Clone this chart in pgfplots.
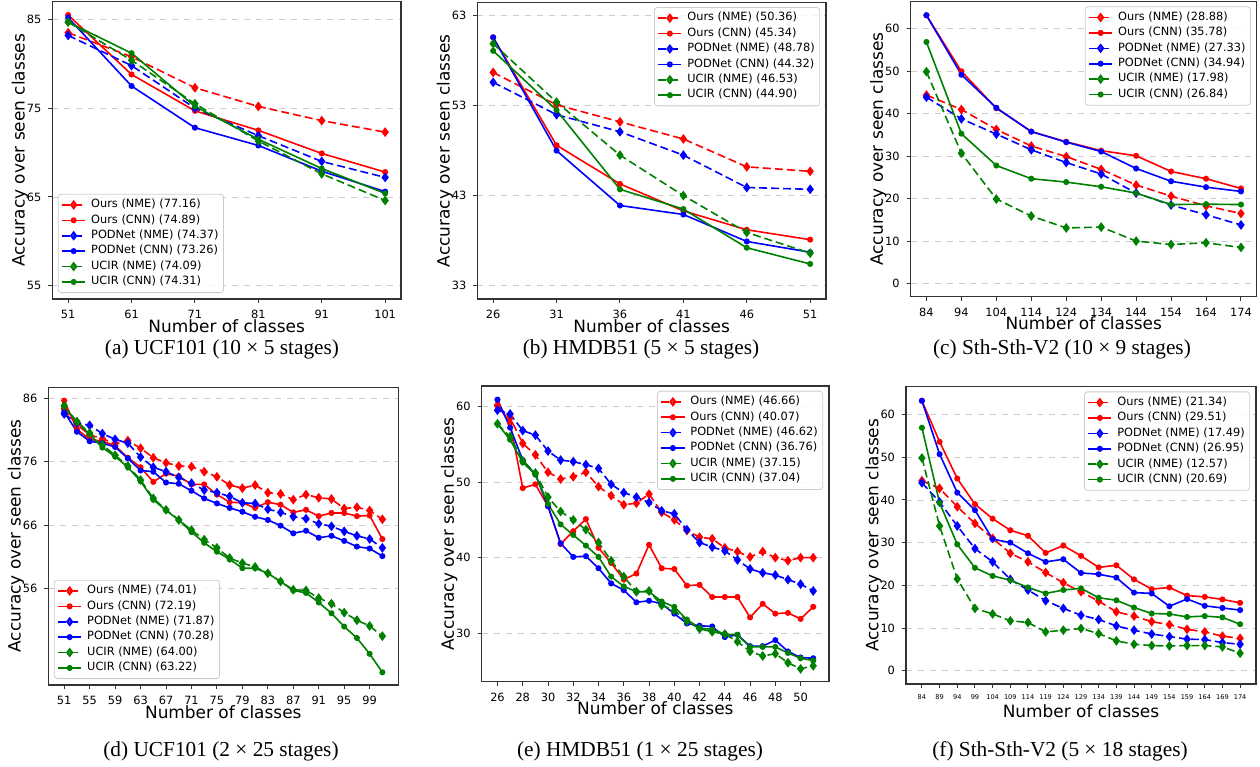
\documentclass[border=0pt]{standalone}
\usepackage{fontspec}
\setmainfont{DejaVu Sans}
\newfontfamily\capfont{Liberation Serif}
\usepackage{pgfplots}
\pgfplotsset{compat=1.18}

\definecolor{mgreen}{rgb}{0,0.5,0}

\pgfplotsset{
  panel/.style={
    scale only axis, anchor=south west,
    axis line style={black!80, line width=0.6bp},
    ymajorgrids, major grid style={dashed, black!20, line width=0.4bp},
    tick align=outside, tick pos=left, major tick length=2bp,
    every tick/.style={black!80, line width=0.5bp},
    ticklabel style={font=\fontsize{5.7}{6}\selectfont},
    /pgf/number format/assume math mode=true,
    xlabel={Number of classes}, ylabel={Accuracy over seen classes},
    every axis x label/.style={at={(axis description cs:0.5,0)}, yshift=-13.4bp,
      anchor=center, font=\fontsize{8.5}{9}\selectfont, inner sep=0pt},
    every axis y label/.style={at={(axis description cs:0,0.5)}, xshift=-16.2bp,
      rotate=90, anchor=center, font=\fontsize{8.5}{9}\selectfont, inner sep=0pt},
    legend cell align=left,
    legend style={font=\fontsize{5.7}{6.6}\selectfont, draw=black!20,
      rounded corners=1.5bp, fill=white, fill opacity=0.8, text opacity=1,
      inner xsep=1.5bp, inner ysep=1.5bp, row sep=0bp, column sep=1.6bp,
      nodes={inner sep=0.95bp}},
    legend image code/.code={\draw[mark repeat=2,mark phase=2]
      plot coordinates {(0bp,0bp) (5.8bp,0bp) (11.6bp,0bp)};},
  },
  nme/.style={line width=0.8bp, dash pattern=on 4bp off 2bp, mark=diamond*, mark size=1.8bp, mark options={solid}},
  cnn/.style={line width=0.8bp, mark=*, mark size=1.1bp},
  sw/.style={legend style={at={(0.016,0.02)}, anchor=south west}},
  ne/.style={legend style={at={(0.983,0.984)}, anchor=north east}},
}

\begin{document}
\begin{tikzpicture}
\useasboundingbox (0,0) rectangle (630bp,383.5bp);

% (a) UCF101 10x5
\begin{axis}[panel, sw, at={(26.15bp,234bp)}, width=174.35bp, height=148.65bp,
  xmin=48.5, xmax=103.5, ymin=53.5, ymax=87,
  xtick={51,61,71,81,91,101}, ytick={55,65,75,85}]
\addplot[red, nme] coordinates {(51,83.5)(61,80.8)(71,77.3)(81,75.2)(91,73.6)(101,72.3)};
\addplot[red, cnn] coordinates {(51,85.5)(61,78.8)(71,74.7)(81,72.5)(91,69.9)(101,67.8)};
\addplot[blue, nme] coordinates {(51,83.2)(61,79.8)(71,75.0)(81,71.9)(91,69.0)(101,67.2)};
\addplot[blue, cnn] coordinates {(51,85.2)(61,77.5)(71,72.8)(81,70.8)(91,67.9)(101,65.6)};
\addplot[mgreen, nme] coordinates {(51,84.7)(61,80.4)(71,75.5)(81,71.3)(91,67.6)(101,64.6)};
\addplot[mgreen, cnn] coordinates {(51,84.7)(61,81.2)(71,75.2)(81,71.5)(91,68.2)(101,65.4)};
\legend{Ours (NME) (77.16), Ours (CNN) (74.89), PODNet (NME) (74.37), PODNet (CNN) (73.26), UCIR (NME) (74.09), UCIR (CNN) (74.31)}
\end{axis}

% (b) HMDB51 5x5
\begin{axis}[panel, ne, at={(238.65bp,234bp)}, width=174.35bp, height=148.35bp,
  xmin=24.75, xmax=52.25, ymin=31.5, ymax=64.5,
  xtick={26,31,36,41,46,51}, ytick={33,43,53,63}]
\addplot[red, nme] coordinates {(26,56.7)(31,53.1)(36,51.2)(41,49.3)(46,46.2)(51,45.7)};
\addplot[red, cnn] coordinates {(26,60.6)(31,48.6)(36,44.3)(41,41.3)(46,39.2)(51,38.1)};
\addplot[blue, nme] coordinates {(26,55.6)(31,52.0)(36,50.1)(41,47.5)(46,43.9)(51,43.7)};
\addplot[blue, cnn] coordinates {(26,60.6)(31,48.0)(36,41.9)(41,40.9)(46,37.9)(51,36.7)};
\addplot[mgreen, nme] coordinates {(26,59.9)(31,53.4)(36,47.5)(41,43.0)(46,38.9)(51,36.6)};
\addplot[mgreen, cnn] coordinates {(26,59.1)(31,52.5)(36,43.7)(41,41.5)(46,37.2)(51,35.4)};
\legend{Ours (NME) (50.36), Ours (CNN) (45.34), PODNet (NME) (48.78), PODNet (CNN) (44.32), UCIR (NME) (46.53), UCIR (CNN) (44.90)}
\end{axis}

% (c) Sth-Sth-V2 10x9
\begin{axis}[panel, ne, at={(455.35bp,235.15bp)}, width=173bp, height=147.5bp,
  xmin=79.5, xmax=178.5, ymin=-3.1, ymax=66.4,
  xtick={84,94,...,174}, ytick={0,10,...,60}]
\addplot[red, nme] coordinates {(84,44.4)(94,41.0)(104,36.3)(114,32.4)(124,29.9)(134,26.9)(144,23.2)(154,20.6)(164,18.3)(174,16.5)};
\addplot[red, cnn] coordinates {(84,63.2)(94,50.0)(104,41.3)(114,35.8)(124,33.4)(134,31.3)(144,30.1)(154,26.4)(164,24.7)(174,22.4)};
\addplot[blue, nme] coordinates {(84,43.9)(94,38.8)(104,35.2)(114,31.5)(124,28.5)(134,25.8)(144,21.3)(154,18.5)(164,16.2)(174,13.8)};
\addplot[blue, cnn] coordinates {(84,63.2)(94,49.2)(104,41.4)(114,35.8)(124,33.3)(134,31.1)(144,27.1)(154,24.1)(164,22.7)(174,21.7)};
\addplot[mgreen, nme] coordinates {(84,49.9)(94,30.7)(104,19.9)(114,15.9)(124,13.1)(134,13.3)(144,10.0)(154,9.2)(164,9.6)(174,8.5)};
\addplot[mgreen, cnn] coordinates {(84,56.9)(94,35.3)(104,27.8)(114,24.7)(124,23.9)(134,22.8)(144,21.3)(154,18.6)(164,18.7)(174,18.6)};
\legend{Ours (NME) (28.88), Ours (CNN) (35.78), PODNet (NME) (27.33), PODNet (CNN) (34.94), UCIR (NME) (17.98), UCIR (CNN) (26.84)}
\end{axis}

% (d) UCF101 2x25
\begin{axis}[panel, sw, at={(24.15bp,41bp)}, width=175bp, height=148.85bp,
  xmin=48.5, xmax=103.5, ymin=40.8, ymax=87.7,
  xtick={51,55,...,99}, ytick={56,66,76,86}]
\addplot[red, nme] coordinates {(51,84.3)(53,81.8)(55,80.2)(57,79.6)(59,78.8)(61,79.3)(63,78.1)(65,76.6)(67,75.8)(69,75.3)(71,75.2)(73,74.4)(75,73.6)(77,72.3)(79,71.8)(81,72.3)(83,71.1)(85,70.9)(87,70.0)(89,70.8)(91,70.3)(93,70.1)(95,68.6)(97,68.8)(99,68.3)(101,66.9)};
\addplot[red, cnn] coordinates {(51,85.6)(53,81.1)(55,79.5)(57,79.2)(59,78.5)(61,76.6)(63,75.1)(65,72.8)(67,74.1)(69,73.7)(71,72.4)(73,72.4)(75,70.8)(77,69.6)(79,69.5)(81,68.7)(83,69.6)(85,69.2)(87,68.0)(89,68.4)(91,67.4)(93,67.9)(95,67.9)(97,67.4)(99,67.5)(101,63.8)};
\addplot[blue, nme] coordinates {(51,83.5)(53,82.1)(55,81.7)(57,80.4)(59,79.5)(61,78.9)(63,76.7)(65,75.1)(67,74.4)(69,73.5)(71,72.6)(73,71.5)(75,71.1)(77,70.5)(79,69.5)(81,69.4)(83,68.5)(85,68.0)(87,67.3)(89,67.0)(91,66.2)(93,65.8)(95,65.0)(97,64.3)(99,63.8)(101,62.4)};
\addplot[blue, cnn] coordinates {(51,83.8)(53,80.7)(55,79.2)(57,78.9)(59,78.3)(61,76.5)(63,74.6)(65,74.4)(67,72.7)(69,72.5)(71,71.4)(73,70.2)(75,69.4)(77,68.7)(79,68.1)(81,67.3)(83,66.8)(85,65.9)(87,64.7)(89,65.1)(91,64.0)(93,64.3)(95,63.5)(97,62.6)(99,62.3)(101,61.1)};
\addplot[mgreen, nme] coordinates {(51,84.8)(53,82.3)(55,80.5)(57,78.6)(59,77.0)(61,75.3)(63,73.1)(65,70.2)(67,68.4)(69,66.8)(71,65.2)(73,63.7)(75,62.4)(77,60.8)(79,60.0)(81,59.4)(83,58.4)(85,57.1)(87,55.8)(89,55.7)(91,54.5)(93,53.6)(95,52.2)(97,51.0)(99,50.1)(101,48.5)};
\addplot[mgreen, cnn] coordinates {(51,84.7)(53,82.2)(55,80.3)(57,78.2)(59,76.8)(61,75.1)(63,72.9)(65,70.0)(67,68.3)(69,66.8)(71,64.9)(73,63.2)(75,61.8)(77,60.6)(79,59.2)(81,59.2)(83,58.4)(85,57.1)(87,55.7)(89,55.3)(91,53.8)(93,52.1)(95,50.0)(97,48.2)(99,45.7)(101,42.8)};
\legend{Ours (NME) (74.01), Ours (CNN) (72.19), PODNet (NME) (71.87), PODNet (CNN) (70.28), UCIR (NME) (64.00), UCIR (CNN) (63.22)}
\end{axis}

% (e) HMDB51 1x25
\begin{axis}[panel, ne, at={(240.85bp,42.65bp)}, width=173.65bp, height=147.85bp,
  xmin=24.75, xmax=52.25, ymin=23.6, ymax=62.7,
  xtick={26,28,...,50}, ytick={30,40,50,60}]
\addplot[red, nme] coordinates {(26,60.1)(27,58.5)(28,55.1)(29,53.6)(30,51.3)(31,50.4)(32,50.7)(33,51.3)(34,49.4)(35,48.2)(36,47.0)(37,47.2)(38,48.4)(39,46.0)(40,45.0)(41,43.6)(42,42.7)(43,42.5)(44,41.3)(45,40.8)(46,40.1)(47,40.8)(48,40.0)(49,39.6)(50,40.0)(51,40.0)};
\addplot[red, cnn] coordinates {(26,60.2)(27,57.8)(28,49.2)(29,49.7)(30,46.8)(31,41.8)(32,43.5)(33,45.1)(34,41.3)(35,39.3)(36,37.1)(37,37.9)(38,41.7)(39,38.6)(40,38.5)(41,36.3)(42,36.4)(43,34.8)(44,34.8)(45,34.8)(46,32.1)(47,33.9)(48,32.6)(49,32.7)(50,31.9)(51,33.5)};
\addplot[blue, nme] coordinates {(26,59.5)(27,59.0)(28,56.8)(29,56.2)(30,54.1)(31,52.9)(32,52.7)(33,52.3)(34,51.8)(35,49.7)(36,48.6)(37,48.0)(38,47.3)(39,46.2)(40,45.8)(41,43.7)(42,42.0)(43,41.4)(44,40.9)(45,39.7)(46,38.5)(47,38.0)(48,37.7)(49,37.1)(50,36.5)(51,35.6)};
\addplot[blue, cnn] coordinates {(26,60.9)(27,57.2)(28,52.9)(29,51.0)(30,46.8)(31,41.9)(32,40.1)(33,40.2)(34,38.6)(35,36.6)(36,35.7)(37,34.1)(38,34.3)(39,33.9)(40,32.6)(41,31.3)(42,31.0)(43,30.9)(44,29.5)(45,29.8)(46,28.3)(47,28.3)(48,29.1)(49,27.6)(50,26.8)(51,26.7)};
\addplot[mgreen, nme] coordinates {(26,57.7)(27,56.0)(28,52.8)(29,51.2)(30,48.0)(31,46.1)(32,45.0)(33,43.7)(34,42.0)(35,39.6)(36,37.5)(37,35.5)(38,35.6)(39,33.7)(40,33.0)(41,31.6)(42,30.6)(43,30.2)(44,29.9)(45,28.9)(46,27.6)(47,27.0)(48,27.3)(49,26.1)(50,25.3)(51,25.7)};
\addplot[mgreen, cnn] coordinates {(26,57.7)(27,55.6)(28,52.6)(29,51.0)(30,47.1)(31,44.4)(32,43.0)(33,41.6)(34,40.1)(35,37.5)(36,36.2)(37,35.5)(38,35.5)(39,34.2)(40,33.5)(41,31.8)(42,30.7)(43,30.5)(44,29.9)(45,29.8)(46,28.2)(47,28.2)(48,28.2)(49,27.4)(50,26.7)(51,26.4)};
\legend{Ours (NME) (46.66), Ours (CNN) (40.07), PODNet (NME) (46.62), PODNet (CNN) (36.76), UCIR (NME) (37.15), UCIR (CNN) (37.04)}
\end{axis}

% (f) Sth-Sth-V2 5x18
\begin{axis}[panel, ne, at={(453bp,41.5bp)}, width=175bp, height=148.65bp,
  xmin=79.5, xmax=178.5, ymin=-3.1, ymax=66.5,
  xtick={84,89,...,174}, ytick={0,10,...,60},
  xticklabel style={font=\fontsize{3.3}{4}\selectfont}]
\addplot[red, nme] coordinates {(84,44.5)(89,42.7)(94,38.4)(99,34.5)(104,31.0)(109,27.5)(114,25.5)(119,23.0)(124,20.6)(129,18.5)(134,16.3)(139,13.8)(144,12.8)(149,11.5)(154,10.8)(159,9.7)(164,9.1)(169,8.1)(174,7.6)};
\addplot[red, cnn] coordinates {(84,63.2)(89,53.6)(94,45.0)(99,39.0)(104,35.6)(109,32.9)(114,31.6)(119,27.6)(124,29.3)(129,26.9)(134,24.2)(139,24.7)(144,21.4)(149,19.1)(154,19.5)(159,17.6)(164,17.3)(169,16.7)(174,15.9)};
\addplot[blue, nme] coordinates {(84,44.0)(89,39.5)(94,33.9)(99,28.6)(104,25.5)(109,21.4)(114,18.9)(119,16.4)(124,14.6)(129,13.0)(134,12.0)(139,10.5)(144,9.5)(149,8.6)(154,8.0)(159,7.4)(164,7.3)(169,6.6)(174,6.2)};
\addplot[blue, cnn] coordinates {(84,63.2)(89,50.7)(94,41.7)(99,37.6)(104,30.8)(109,30.0)(114,27.5)(119,25.5)(124,26.1)(129,22.9)(134,22.6)(139,21.8)(144,18.3)(149,18.1)(154,15.1)(159,16.8)(164,15.2)(169,14.7)(174,14.2)};
\addplot[mgreen, nme] coordinates {(84,49.8)(89,33.9)(94,21.5)(99,14.6)(104,13.3)(109,11.7)(114,11.3)(119,9.1)(124,9.5)(129,9.9)(134,8.7)(139,7.0)(144,6.2)(149,5.9)(154,5.8)(159,5.9)(164,5.9)(169,5.6)(174,4.1)};
\addplot[mgreen, cnn] coordinates {(84,56.9)(89,39.3)(94,29.6)(99,24.1)(104,22.2)(109,21.2)(114,19.5)(119,18.1)(124,18.9)(129,19.3)(134,17.1)(139,16.5)(144,14.8)(149,13.4)(154,13.3)(159,12.6)(164,12.8)(169,12.5)(174,10.9)};
\legend{Ours (NME) (21.34), Ours (CNN) (29.51), PODNet (NME) (17.49), PODNet (CNN) (26.95), UCIR (NME) (12.57), UCIR (CNN) (20.69)}
\end{axis}

% sub-figure captions
\begin{scope}[every node/.style={anchor=base, font=\capfont\fontsize{10.7}{12}\selectfont}]
\node at (111bp,206bp) {(a) UCF101 (10 × 5 stages)};
\node at (320.5bp,206bp) {(b) HMDB51 (5 × 5 stages)};
\node at (531bp,206bp) {(c) Sth-Sth-V2 (10 × 9 stages)};
\node at (110.5bp,5.5bp) {(d) UCF101 (2 × 25 stages)};
\node at (320bp,5.5bp) {(e) HMDB51 (1 × 25 stages)};
\node at (530bp,5.5bp) {(f) Sth-Sth-V2 (5 × 18 stages)};
\end{scope}
\end{tikzpicture}
\end{document}
